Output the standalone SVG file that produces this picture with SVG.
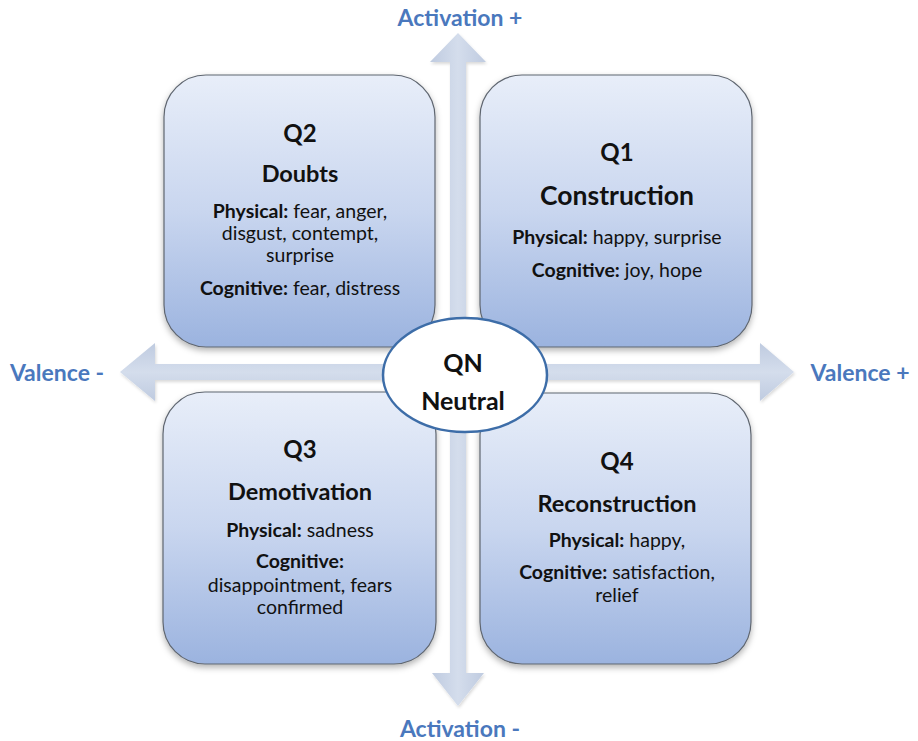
<svg xmlns="http://www.w3.org/2000/svg" width="918" height="741" viewBox="0 0 918 741">
  <defs>
    <linearGradient id="boxFill" x1="0" y1="0" x2="0" y2="1">
      <stop offset="0" stop-color="#E8EEF9"/>
      <stop offset="0.5" stop-color="#C9D6EF"/>
      <stop offset="1" stop-color="#9BB3DF"/>
    </linearGradient>
    <linearGradient id="vShaft" x1="0" y1="0" x2="1" y2="0">
      <stop offset="0" stop-color="#BFCBE0"/>
      <stop offset="0.5" stop-color="#D4DDEC"/>
      <stop offset="1" stop-color="#BFCBE0"/>
    </linearGradient>
    <linearGradient id="hShaft" x1="0" y1="0" x2="0" y2="1">
      <stop offset="0" stop-color="#BFCBE0"/>
      <stop offset="0.5" stop-color="#D4DDEC"/>
      <stop offset="1" stop-color="#BFCBE0"/>
    </linearGradient>
    <filter id="shadow" x="-10%" y="-10%" width="120%" height="125%">
      <feDropShadow dx="0" dy="3" stdDeviation="3" flood-color="#000" flood-opacity="0.3"/>
    </filter>
    <filter id="soft" x="-10%" y="-10%" width="120%" height="120%">
      <feDropShadow dx="1" dy="2" stdDeviation="1.5" flood-color="#000" flood-opacity="0.15"/>
    </filter>
  </defs>
  <style>
    .box { fill: url(#boxFill); stroke: #5F6670; stroke-width: 1.2; filter: url(#shadow); }
    text { font-family: Lato, "Open Sans", sans-serif; fill: #111; text-anchor: middle; }
    .q { font-size: 24px; font-weight: bold; }
    .title { font-size: 23.5px; font-weight: bold; }
    .body { font-size: 19.5px; }
    .b { font-weight: bold; }
    .axis { font-size: 23px; font-weight: bold; fill: #4A78BD; }
  </style>

  <rect width="918" height="741" fill="#FFFFFF"/>

  <!-- axes -->
  <g id="connectors" filter="url(#soft)">
    <path d="M450,62 H466 V673 H484 L458,706 L432,673 H450 Z" fill="url(#vShaft)"/>
    <path d="M430,62 L458,33 L486,62 H466 V100 H450 V62 Z" fill="url(#vShaft)"/>
    <path d="M155,364 H760 V343 L794,372 L760,401 V380 H155 V401 L120,372 L155,343 Z" fill="url(#hShaft)"/>
  </g>

  <!-- quadrant boxes -->
  <g id="q2">
    <rect class="box" x="164" y="75" width="271" height="272" rx="42"/>
    <text class="q" x="300" y="142">Q2</text>
    <text class="title" x="300" y="182">Doubts</text>
    <text class="body" x="300" y="218"><tspan class="b">Physical:</tspan> fear, anger,</text>
    <text class="body" x="300" y="240">disgust, contempt,</text>
    <text class="body" x="300" y="262">surprise</text>
    <text class="body" x="300" y="295"><tspan class="b">Cognitive:</tspan> fear, distress</text>
  </g>

  <g id="q1">
    <rect class="box" x="480" y="75" width="272" height="272" rx="42"/>
    <text class="q" x="617" y="161">Q1</text>
    <text x="617" y="205" font-size="26.5" font-weight="bold">Construction</text>
    <text class="body" x="617" y="244"><tspan class="b">Physical:</tspan> happy, surprise</text>
    <text class="body" x="617" y="277"><tspan class="b">Cognitive:</tspan> joy, hope</text>
  </g>

  <g id="q3">
    <rect class="box" x="163" y="392" width="273" height="272" rx="42"/>
    <text class="q" x="300" y="458">Q3</text>
    <text class="title" x="300" y="500">Demotivation</text>
    <text class="body" x="300" y="537"><tspan class="b">Physical:</tspan> sadness</text>
    <text class="body b" x="300" y="568">Cognitive:</text>
    <text class="body" x="300" y="592">disappointment, fears</text>
    <text class="body" x="300" y="614">confirmed</text>
  </g>

  <g id="q4">
    <rect class="box" x="480" y="393" width="271" height="271" rx="42"/>
    <text class="q" x="617" y="470">Q4</text>
    <text class="title" x="617" y="512">Reconstruction</text>
    <text class="body" x="617" y="547"><tspan class="b">Physical:</tspan> happy,</text>
    <text class="body" x="617" y="579"><tspan class="b">Cognitive:</tspan> satisfaction,</text>
    <text class="body" x="617" y="602">relief</text>
  </g>

  <!-- neutral centre -->
  <g id="qn">
    <ellipse cx="465" cy="375" rx="82" ry="57" fill="#FFFFFF" stroke="#3D6DA8" stroke-width="2.5"/>
    <text x="463" y="372" font-size="25" font-weight="bold">QN</text>
    <text x="463" y="410" font-size="25" font-weight="bold">Neutral</text>
  </g>

  <!-- axis labels -->
  <g id="labels">
    <text class="axis" x="460" y="26">Activation +</text>
    <text class="axis" x="460" y="737">Activation -</text>
    <text class="axis" x="57" y="381">Valence -</text>
    <text class="axis" x="860" y="381">Valence +</text>
  </g>
</svg>
